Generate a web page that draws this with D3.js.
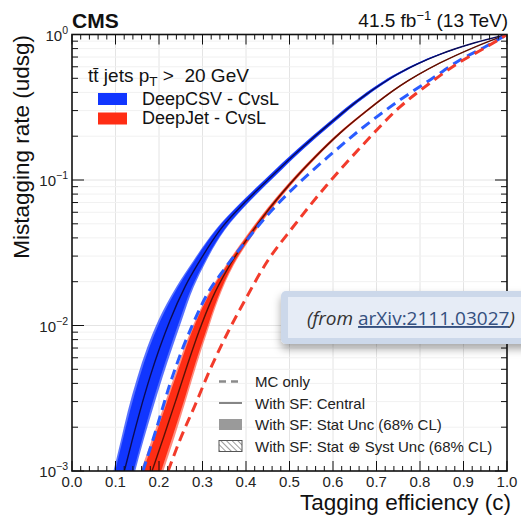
<!DOCTYPE html>
<html>
<head>
<meta charset="utf-8">
<script src="https://cdn.jsdelivr.net/npm/d3@7"></script>
<style>
  body { margin: 0; background: #fff; }
  svg { display: block; font-family: "Liberation Sans", Arial, Helvetica, sans-serif; }
</style>
</head>
<body>
<div id="chart"></div>
<script>
// DeepCSV - CvsL : with SF, central curve + band half-widths in efficiency (total = stat+syst, stat)
var csvEff   = [0.095, 0.12, 0.138, 0.156, 0.179, 0.202, 0.225, 0.26, 0.294, 0.34, 0.398, 0.46, 0.524, 0.593, 0.674, 0.754, 0.846, 0.926, 1.0]
var csvMis   = [0.00049, 0.00099, 0.00161, 0.00256, 0.00440, 0.00708, 0.0108, 0.0185, 0.0279, 0.0452, 0.0705, 0.107, 0.162, 0.245, 0.383, 0.546, 0.731, 0.877, 1.0]
var csvTotW  = [0.025, 0.025, 0.026, 0.028, 0.029, 0.029, 0.027, 0.020, 0.015, 0.011, 0.009, 0.008, 0.007, 0.0065, 0.006, 0.005, 0.0035, 0.002, 0]
var csvStatW = [0.021, 0.021, 0.022, 0.023, 0.024, 0.024, 0.022, 0.016, 0.012, 0.009, 0.0074, 0.0066, 0.0058, 0.0054, 0.005, 0.0042, 0.003, 0.0016, 0]

// DeepJet - CvsL
var jetEff   = [0.156, 0.184, 0.2115, 0.239, 0.2667, 0.292, 0.322, 0.363, 0.409, 0.455, 0.501, 0.559, 0.616, 0.674, 0.754, 0.846, 0.926, 1.0]
var jetMis   = [0.00057, 0.00100, 0.00174, 0.00308, 0.00552, 0.00912, 0.0153, 0.0261, 0.0419, 0.0643, 0.0939, 0.144, 0.210, 0.293, 0.443, 0.637, 0.820, 1.0]
var jetTotW  = [0.027, 0.026, 0.025, 0.023, 0.021, 0.0195, 0.015, 0.009, 0.007, 0.006, 0.005, 0.0045, 0.004, 0.0035, 0.003, 0.002, 0.001, 0]
var jetStatW = [0.022, 0.021, 0.020, 0.019, 0.017, 0.016, 0.012, 0.0065, 0.0048, 0.004, 0.0036, 0.0032, 0.0028, 0.0024, 0.002, 0.0016, 0.0008, 0]

// MC only (dashed)
var csvMcEff = [0.163, 0.193, 0.225, 0.253, 0.276, 0.306, 0.352, 0.402, 0.46, 0.524, 0.593, 0.662, 0.754, 0.823, 0.892, 0.949, 1.0]
var csvMcMis = [0.00100, 0.00191, 0.00394, 0.00679, 0.00993, 0.01545, 0.0248, 0.0387, 0.0622, 0.0968, 0.148, 0.221, 0.355, 0.487, 0.668, 0.820, 1.0]
var jetMcEff = [0.221, 0.248, 0.283, 0.317, 0.361, 0.398, 0.448, 0.508, 0.586, 0.662, 0.754, 0.823, 0.892, 0.949, 1.0]
var jetMcMis = [0.00100, 0.00163, 0.00284, 0.00495, 0.00931, 0.0150, 0.0273, 0.0475, 0.0924, 0.166, 0.318, 0.464, 0.647, 0.808, 1.0]

var xTicks = [0, 0.1, 0.2, 0.3, 0.4, 0.5, 0.6, 0.7, 0.8, 0.9, 1.0]
var yTicks = [1e-3, 1e-2, 1e-1, 1]
var yTickExp = ["\u22123", "\u22122", "\u22121", "0"]
var legendTop = ["DeepCSV - CvsL", "DeepJet - CvsL"]
var legendBottom = ["MC only", "With SF: Central", "With SF: Stat Unc (68% CL)", "With SF: Stat \u2295 Syst Unc (68% CL)"]

var blue = "#1136ff", red = "#ff2d14"
var blueDash = "#2a5cff", redDash = "#f23b2b"

function draw_chart(container) {
  var width = 521, height = 517
  var x = d3.scaleLinear().domain([0, 1]).range([72, 507])
  var y = d3.scaleLog().domain([1e-3, 1]).range([471, 34.5])

  var svg = d3.select(container).append("svg")
    .attr("width", width).attr("height", height)
  svg.append("rect").attr("width", width).attr("height", height).attr("fill", "#fff")

  var defs = svg.append("defs")
  defs.append("clipPath").attr("id", "plotclip").append("rect")
    .attr("x", 72).attr("y", 34.5).attr("width", 435).attr("height", 436.5)
  var p = defs.append("pattern").attr("id", "hatchGrey").attr("patternUnits", "userSpaceOnUse")
    .attr("width", 4).attr("height", 4).attr("patternTransform", "rotate(-45)")
  p.append("line").attr("x1", 0).attr("y1", 0).attr("x2", 0).attr("y2", 4)
    .attr("stroke", "#666").attr("stroke-width", 1.3)
  var f = defs.append("filter").attr("id", "shadow").attr("x", "-10%").attr("y", "-20%").attr("width", "130%").attr("height", "170%")
  f.append("feDropShadow").attr("dx", 0).attr("dy", 5).attr("stdDeviation", 4).attr("flood-color", "#000").attr("flood-opacity", 0.35)

  // grid
  var grid = svg.append("g")
  grid.selectAll("line.gx").data(xTicks.slice(1, -1)).enter().append("line")
    .attr("x1", d => x(d)).attr("x2", d => x(d)).attr("y1", 34.5).attr("y2", 471)
    .attr("stroke", "#e4e4e4").attr("stroke-width", 1)
  var yMinor = []
  yTicks.slice(0, -1).forEach(function(dec) {
    for (var k = 2; k <= 9; k++) yMinor.push(dec * k)
  })
  grid.selectAll("line.gym").data(yMinor).enter().append("line")
    .attr("x1", 72).attr("x2", 507).attr("y1", d => y(d)).attr("y2", d => y(d))
    .attr("stroke", "#f1f1f1").attr("stroke-width", 1)
  grid.selectAll("line.gy").data(yTicks.slice(1, -1)).enter().append("line")
    .attr("x1", 72).attr("x2", 507).attr("y1", d => y(d)).attr("y2", d => y(d))
    .attr("stroke", "#e4e4e4").attr("stroke-width", 1)

  var plot = svg.append("g").attr("clip-path", "url(#plotclip)")

  function band(eff, mis, w) {
    return eff.map(function(e, i) { return {m: mis[i], lo: e - w[i], hi: e + w[i]} })
  }
  var area = d3.area().y(d => y(d.m)).x0(d => x(d.lo)).x1(d => x(d.hi)).curve(d3.curveMonotoneY)
  var line = d3.line().x(d => x(d[0])).y(d => y(d[1])).curve(d3.curveMonotoneX)

  plot.append("path").attr("d", area(band(csvEff, csvMis, csvTotW))).attr("fill", blue).attr("fill-opacity", 0.7)
  plot.append("path").attr("d", area(band(csvEff, csvMis, csvStatW))).attr("fill", blue)
  plot.append("path").attr("d", area(band(jetEff, jetMis, jetTotW))).attr("fill", red).attr("fill-opacity", 0.55)
  plot.append("path").attr("d", area(band(jetEff, jetMis, jetStatW))).attr("fill", red)

  plot.append("path").attr("d", line(d3.zip(csvEff, csvMis))).attr("fill", "none")
    .attr("stroke", "#0b0b55").attr("stroke-width", 1.4)
  plot.append("path").attr("d", line(d3.zip(jetEff, jetMis))).attr("fill", "none")
    .attr("stroke", "#5a1206").attr("stroke-width", 1.4)

  plot.append("path").attr("d", line(d3.zip(csvMcEff, csvMcMis))).attr("fill", "none")
    .attr("stroke", blueDash).attr("stroke-width", 3).attr("stroke-dasharray", "10,6")
  plot.append("path").attr("d", line(d3.zip(jetMcEff, jetMcMis))).attr("fill", "none")
    .attr("stroke", redDash).attr("stroke-width", 3).attr("stroke-dasharray", "10,6")

  // frame and ticks
  var ax = svg.append("g").attr("stroke", "#111")
  ax.append("rect").attr("x", 72).attr("y", 34.5).attr("width", 435).attr("height", 436.5)
    .attr("fill", "none").attr("stroke-width", 1.6)
  var xMinor = d3.range(0, 1.0001, 0.02)
  xMinor.forEach(function(v) {
    var major = Math.abs(v * 10 - Math.round(v * 10)) < 1e-6
    var len = major ? 10 : 5
    ax.append("line").attr("x1", x(v)).attr("x2", x(v)).attr("y1", 471).attr("y2", 471 - len).attr("stroke-width", 1)
    ax.append("line").attr("x1", x(v)).attr("x2", x(v)).attr("y1", 34.5).attr("y2", 34.5 + len).attr("stroke-width", 1)
  })
  yTicks.forEach(function(v) {
    ax.append("line").attr("x1", 72).attr("x2", 84).attr("y1", y(v)).attr("y2", y(v)).attr("stroke-width", 1)
    ax.append("line").attr("x1", 507).attr("x2", 495).attr("y1", y(v)).attr("y2", y(v)).attr("stroke-width", 1)
  })
  yMinor.forEach(function(v) {
    ax.append("line").attr("x1", 72).attr("x2", 78).attr("y1", y(v)).attr("y2", y(v)).attr("stroke-width", 1)
    ax.append("line").attr("x1", 507).attr("x2", 501).attr("y1", y(v)).attr("y2", y(v)).attr("stroke-width", 1)
  })

  // tick labels
  svg.selectAll("text.xt").data(xTicks).enter().append("text")
    .attr("x", d => x(d)).attr("y", 487).attr("text-anchor", "middle")
    .attr("font-size", 15).attr("fill", "#222").text(d => d.toFixed(1))
  yTicks.forEach(function(v, i) {
    var t = svg.append("text").attr("x", 68).attr("y", y(v) + 6).attr("text-anchor", "end")
      .attr("font-size", 15).attr("fill", "#222")
    t.append("tspan").text("10")
    t.append("tspan").attr("dy", -7).attr("font-size", 10.5).text(yTickExp[i])
  })

  // axis titles
  svg.append("text").attr("x", 511).attr("y", 510).attr("text-anchor", "end")
    .attr("font-size", 22.5).attr("fill", "#111").text("Tagging efficiency (c)")
  svg.append("text").attr("transform", "translate(29,35) rotate(-90)").attr("text-anchor", "end")
    .attr("font-size", 22.5).attr("fill", "#111").text("Mistagging rate (udsg)")

  // header
  svg.append("text").attr("x", 72).attr("y", 28).attr("font-size", 21).attr("font-weight", "bold")
    .attr("fill", "#111").text("CMS")
  var lumi = svg.append("text").attr("x", 508).attr("y", 27).attr("text-anchor", "end")
    .attr("font-size", 19).attr("fill", "#111")
  lumi.append("tspan").text("41.5 fb")
  lumi.append("tspan").attr("dy", -7).attr("font-size", 13).text("\u22121")
  lumi.append("tspan").attr("dy", 7).text(" (13 TeV)")

  // top legend
  var sel = svg.append("text").attr("x", 88).attr("y", 82).attr("font-size", 19).attr("fill", "#111")
    .style("white-space", "pre")
  sel.append("tspan").text("t")
  sel.append("tspan").text("t\u0304")
  sel.append("tspan").text(" jets p")
  sel.append("tspan").attr("dy", 4).attr("font-size", 13.5).text("T")
  sel.append("tspan").attr("dy", -4).text(" >  20 GeV")
  var lcol = [blue, red]
  legendTop.forEach(function(name, i) {
    var yy = 93 + i * 19.5
    svg.append("rect").attr("x", 98).attr("y", yy).attr("width", 29).attr("height", 12).attr("fill", lcol[i])
    svg.append("text").attr("x", 142).attr("y", yy + 11.5).attr("font-size", 18).attr("fill", "#111").text(name)
  })

  // bottom legend
  legendBottom.forEach(function(name, i) {
    var yc = 381.5 + i * 21.5
    var g = svg.append("g")
    if (i == 0) g.append("line").attr("x1", 219).attr("x2", 242).attr("y1", yc).attr("y2", yc)
      .attr("stroke", "#8a8a8a").attr("stroke-width", 2.5).attr("stroke-dasharray", "7,5")
    if (i == 1) g.append("line").attr("x1", 219).attr("x2", 242).attr("y1", yc).attr("y2", yc)
      .attr("stroke", "#444").attr("stroke-width", 1.3)
    if (i == 2) g.append("rect").attr("x", 219).attr("y", yc - 5.5).attr("width", 23).attr("height", 11).attr("fill", "#9a9a9a")
    if (i == 3) g.append("rect").attr("x", 219).attr("y", yc - 5.5).attr("width", 23).attr("height", 11)
      .attr("fill", "url(#hatchGrey)").attr("stroke", "#555").attr("stroke-width", 1)
    svg.append("text").attr("x", 255).attr("y", yc + 5.5).attr("font-size", 15).attr("fill", "#222").text(name)
  })

  // source overlay
  var box = svg.append("g")
  box.append("rect").attr("x", 281).attr("y", 291).attr("width", 270).attr("height", 53).attr("rx", 5)
    .attr("fill", "#ccd8ea").attr("filter", "url(#shadow)")
  box.append("rect").attr("x", 288).attr("y", 297).attr("width", 260).attr("height", 41)
    .attr("fill", "#e6ecf6")
  var src = box.append("text").attr("x", 307).attr("y", 325).attr("font-size", 19)
    .attr("font-family", "'Open Sans', 'Liberation Sans', sans-serif").attr("fill", "#333")
  src.append("tspan").attr("font-style", "italic").text("(from ")
  src.append("tspan").attr("fill", "#35507f").attr("text-decoration", "underline").text("arXiv:2111.03027")
  src.append("tspan").attr("font-style", "italic").text(")")
}

draw_chart("#chart")
</script>
</body>
</html>
